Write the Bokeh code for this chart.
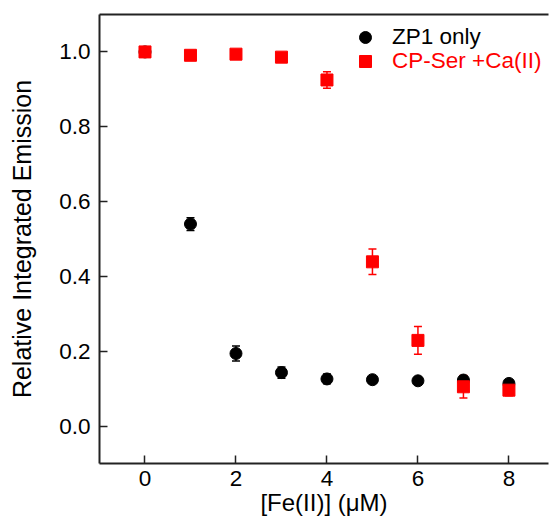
from bokeh.plotting import figure
from bokeh.models import (ColumnDataSource, Whisker, TeeHead, Range1d, Legend,
                          LegendItem, LinearAxis, FixedTicker)
from bokeh.embed import file_html
from bokeh.resources import INLINE

# ---- data ----
fe_conc = [0, 1, 2, 3, 4, 5, 6, 7, 8]
zp1_only = [1.0, 0.540, 0.194, 0.143, 0.126, 0.124, 0.121, 0.123, 0.114]
zp1_err = [0.0, 0.017, 0.020, 0.015, 0.013, 0.008, 0.008, 0.010, 0.010]
cpser_ca = [1.0, 0.991, 0.994, 0.986, 0.925, 0.439, 0.229, 0.105, 0.096]
cpser_err = [0.0, 0.0, 0.0, 0.0, 0.022, 0.034, 0.037, 0.030, 0.015]
x_ticks = [0, 2, 4, 6, 8]
y_ticks = [0.0, 0.2, 0.4, 0.6, 0.8, 1.0]
series_names = ["ZP1 only", "CP-Ser +Ca(II)"]

FONT = "Liberation Sans"
TICK_FS = "22.5px"
LABEL_FS = "24px"

p = figure(width=549, height=525, output_backend="svg", toolbar_location=None,
           x_range=Range1d(-1, 8.87), y_range=Range1d(-0.1, 1.1),
           min_border_left=99, min_border_right=1, min_border_top=14,
           min_border_bottom=62)
p.background_fill_color = "white"
p.border_fill_color = "white"
p.outline_line_color = None
p.grid.visible = False

for ax in (p.xaxis[0], p.yaxis[0]):
    ax.axis_line_width = 2
    ax.axis_line_color = "#222222"
    ax.major_tick_in = 8
    ax.major_tick_out = 0
    ax.major_tick_line_width = 1.5
    ax.major_tick_line_color = "#222222"
    ax.minor_tick_line_color = None
    ax.major_label_text_font = FONT
    ax.major_label_text_font_size = TICK_FS
    ax.major_label_text_color = "black"
    ax.axis_label_text_font = FONT
    ax.axis_label_text_font_size = LABEL_FS
    ax.axis_label_text_font_style = "normal"
    ax.axis_label_text_color = "black"

p.xaxis.ticker = FixedTicker(ticks=x_ticks)
p.yaxis.ticker = FixedTicker(ticks=y_ticks)
p.yaxis.major_label_overrides = {t: f"{t:.1f}" for t in y_ticks}
p.xaxis.axis_label = "[Fe(II)] (μM)"
p.yaxis.axis_label = "Relative Integrated Emission"
p.yaxis.axis_label_text_font_size = "25px"
p.xaxis.major_label_standoff = 7
p.xaxis.axis_label_standoff = 0
p.yaxis.major_label_standoff = 9
p.yaxis.axis_label_standoff = 20

# top border line
top = LinearAxis(ticker=FixedTicker(ticks=[]), axis_line_width=2,
                 axis_line_color="#222222", major_tick_line_color=None,
                 minor_tick_line_color=None, major_label_text_font_size="0px")
p.add_layout(top, "above")

src_k = ColumnDataSource(dict(x=fe_conc, y=zp1_only,
                              lo=[v - e for v, e in zip(zp1_only, zp1_err)],
                              hi=[v + e for v, e in zip(zp1_only, zp1_err)]))
src_r = ColumnDataSource(dict(x=fe_conc, y=cpser_ca,
                              lo=[v - e for v, e in zip(cpser_ca, cpser_err)],
                              hi=[v + e for v, e in zip(cpser_ca, cpser_err)]))

wk = Whisker(source=src_k, base="x", lower="lo", upper="hi", line_color="black",
             line_width=1.5,
             upper_head=TeeHead(size=8, line_color="black", line_width=1.5),
             lower_head=TeeHead(size=8, line_color="black", line_width=1.5))
p.add_layout(wk)
rk = p.scatter("x", "y", source=src_k, marker="circle", size=12,
               fill_color="black", line_color="black")

wr = Whisker(source=src_r, base="x", lower="lo", upper="hi", line_color="red",
             line_width=1.5,
             upper_head=TeeHead(size=8, line_color="red", line_width=1.5),
             lower_head=TeeHead(size=8, line_color="red", line_width=1.5))
p.add_layout(wr)
rr = p.scatter("x", "y", source=src_r, marker="square", size=12,
               fill_color="red", line_color="red")

def make_legend(renderer, label, color, y):
    lg = Legend(items=[LegendItem(label=label, renderers=[renderer])],
                location=(251, y), border_line_color=None,
                background_fill_alpha=0, padding=0, margin=0, spacing=0,
                glyph_width=30, glyph_height=30, label_standoff=12,
                label_text_font=FONT, label_text_font_size=TICK_FS,
                label_text_color=color)
    p.add_layout(lg, "center")

make_legend(rk, series_names[0], "black", 411)
make_legend(rr, series_names[1], "red", 387)

open("out.html", "w").write(file_html(p, INLINE))
